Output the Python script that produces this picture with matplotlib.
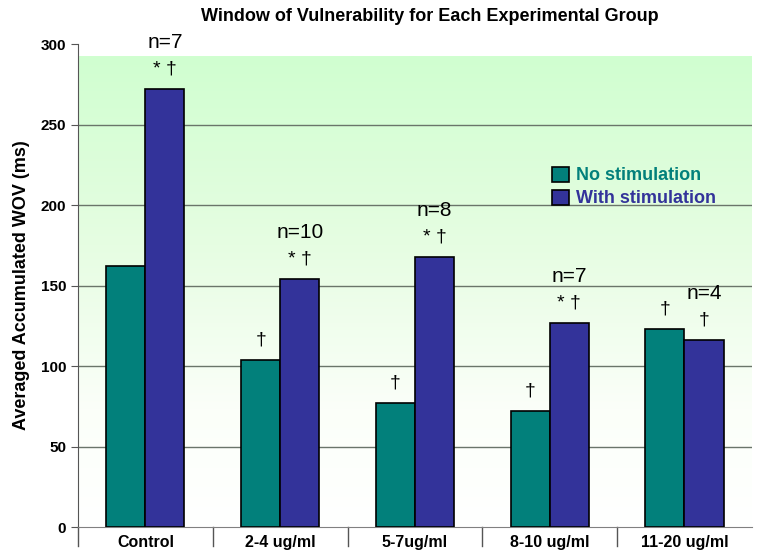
import numpy as np
import matplotlib
matplotlib.use("Agg")
import matplotlib.pyplot as plt
from matplotlib.colors import LinearSegmentedColormap

categories = ["Control", "2-4 ug/ml", "5-7ug/ml", "8-10 ug/ml", "11-20 ug/ml"]
no_stim = [162, 104, 77, 72, 123]
with_stim = [272, 154, 168, 127, 116]
no_stim_marks = ["", "†", "†", "†", "†"]
with_stim_marks = ["* †", "* †", "* †", "* †", "†"]
n_labels = ["n=7", "n=10", "n=8", "n=7", "n=4"]

teal = "#02807B"
navy = "#33339A"

plt.rcParams['font.family'] = ['Liberation Sans', 'DejaVu Sans']

fig = plt.figure(figsize=(7.68, 5.6), dpi=100)
ax = fig.add_axes([0.1016, 0.0589, 0.8774, 0.8625])

x = np.arange(len(categories))
w = 0.29

# gradient background
grad = np.linspace(0, 1, 256).reshape(-1, 1)
cmap = LinearSegmentedColormap.from_list(
    "g", [(0.0, "#ffffff"), (0.25, "#fbfff9"), (0.6, "#e6fde2"), (1.0, "#d0ffd0")])
ax.imshow(grad, extent=(-0.5, len(categories) - 0.5, 0, 292), origin="lower",
          aspect="auto", cmap=cmap, zorder=0)

for yv in [50, 100, 150, 200, 250]:
    ax.axhline(yv, color="#6a756a", lw=1.0, zorder=1)

ax.bar(x - w / 2, no_stim, w, color=teal, edgecolor="black", lw=1.2, zorder=3,
       label="No stimulation")
ax.bar(x + w / 2, with_stim, w, color=navy, edgecolor="black", lw=1.2, zorder=3,
       label="With stimulation")

for i in range(len(categories)):
    if no_stim_marks[i]:
        ax.text(x[i] - w / 2, no_stim[i] + 7, no_stim_marks[i], ha="center",
                va="bottom", fontsize=14, zorder=4)
    ax.text(x[i] + w / 2, with_stim[i] + 7, with_stim_marks[i], ha="center",
            va="bottom", fontsize=14, zorder=4)
    ax.text(x[i] + w / 2, with_stim[i] + 23, n_labels[i], ha="center",
            va="bottom", fontsize=15, zorder=4)

ax.set_xlim(-0.5, len(categories) - 0.5)
ax.set_ylim(0, 300)
ax.set_yticks([0, 50, 100, 150, 200, 250, 300])
ax.tick_params(axis="y", direction="out", length=5, labelsize=11, color="#555555")
for lab in ax.get_yticklabels():
    lab.set_fontweight("bold")
ax.set_xticks(x)
ax.set_xticklabels(categories, fontsize=11.5, fontweight="bold")
ax.tick_params(axis="x", length=0, pad=6)
for xs in np.arange(0.5, len(categories) - 0.5, 1.0):
    ax.plot([xs, xs], [0, -12], color="#555555", lw=1, clip_on=False, zorder=2)
ax.plot([-0.5, -0.5], [0, -12], color="#555555", lw=1, clip_on=False)

for s in ["top", "right"]:
    ax.spines[s].set_visible(False)
ax.spines["left"].set_color("#555555")
ax.spines["bottom"].set_color("#808080")

ax.set_ylabel("Averaged Accumulated WOV (ms)", fontsize=13, fontweight="bold",
              labelpad=8)
fig.suptitle("Window of Vulnerability for Each Experimental Group", x=0.56,
             y=0.985, fontsize=13, fontweight="bold")

leg = ax.legend(loc="upper left", bbox_to_anchor=(0.68, 0.78), frameon=False,
                handlelength=0.9, handleheight=0.9,
                handletextpad=0.4, labelspacing=0.3, prop={"weight": "bold", "size": 13})
for t, c in zip(leg.get_texts(), [teal, navy]):
    t.set_color(c)

fig.savefig("out.png", dpi=100)
